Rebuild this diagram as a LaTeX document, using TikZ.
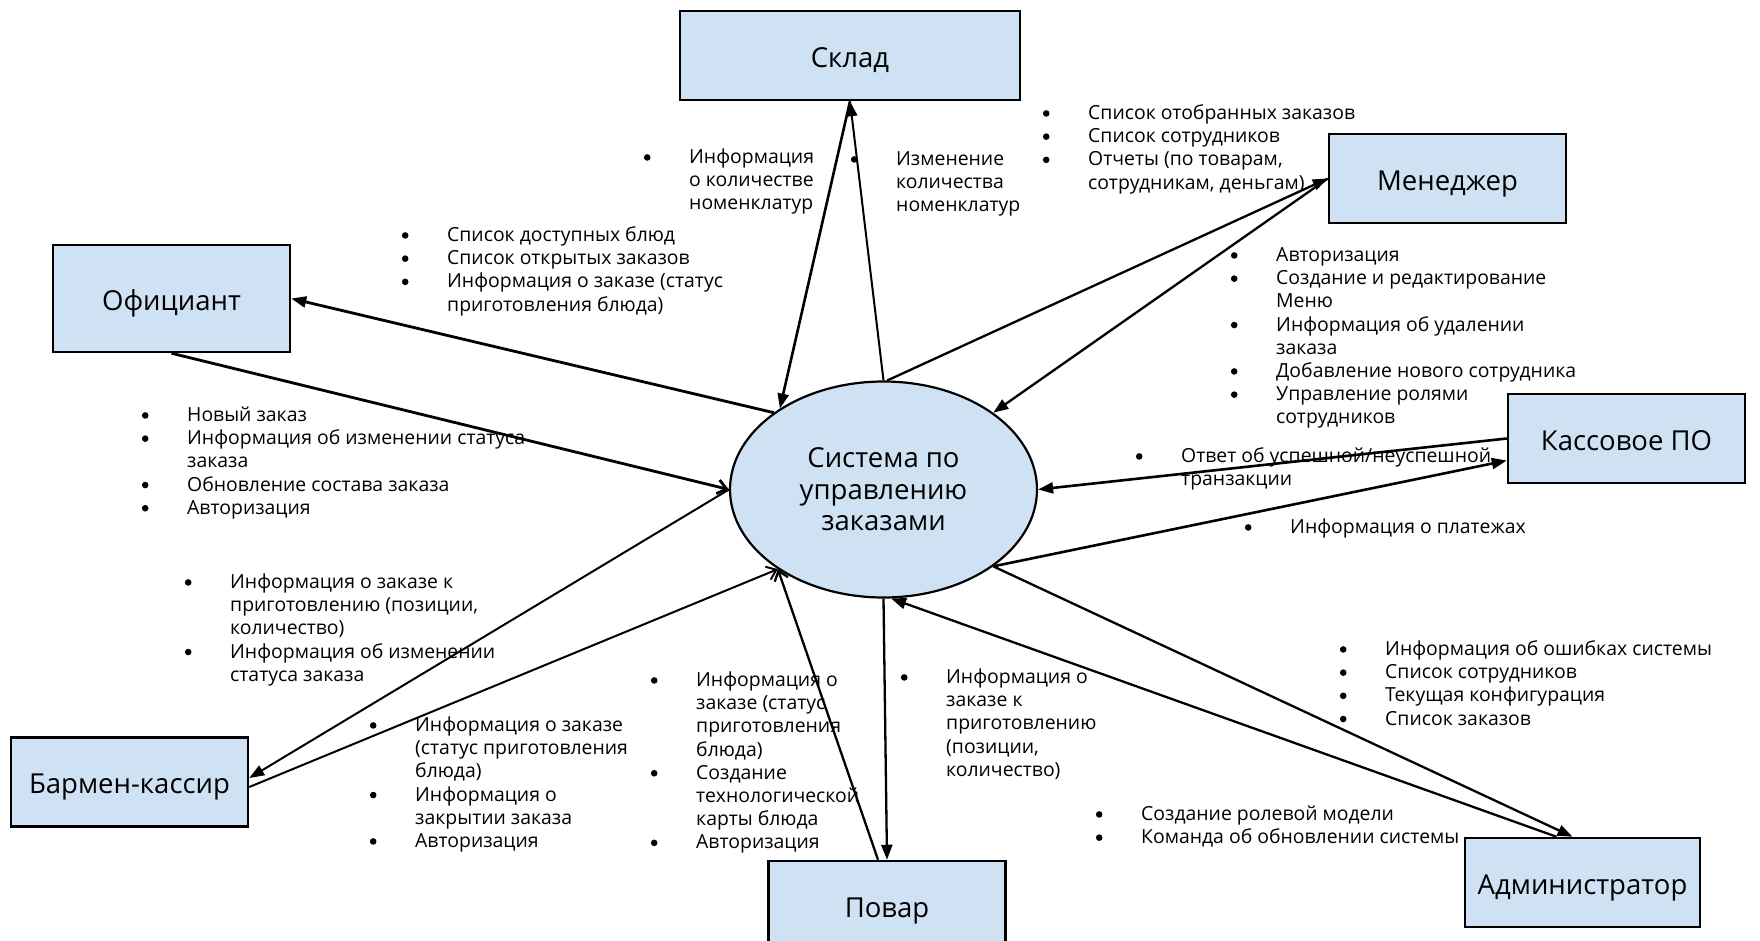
\documentclass[tikz,border=0pt]{standalone}
\usepackage{fontspec}
\setmainfont{Open Sans}
\usetikzlibrary{arrows.meta,shapes.geometric}
\definecolor{boxblue}{HTML}{CFE2F3}
\newcommand{\bul}{\llap{\tikz[baseline=0pt]\fill (0pt,6pt) circle[radius=3.3pt];\hspace{38.7pt}}}

\begin{document}
\begin{tikzpicture}[
    x=1pt, y=-1pt,
    >={Triangle[length=15pt,width=11pt]},
    actor/.style={draw, line width=2.5pt, fill=boxblue, minimum width=237pt,
      minimum height=89pt, inner sep=0pt, text height=23.6pt, text depth=0pt,
      font=\fontsize{27.5}{33}\selectfont},
    core/.style={draw, ellipse, line width=2.2pt, fill=boxblue, minimum width=307pt,
      minimum height=216pt, inner sep=0pt, align=center,
      font=\fontsize{27.5}{31.5}\selectfont},
    lst/.style={anchor=north west, align=left, inner sep=0pt,
      font=\fontsize{19.4}{23.2}\selectfont},
    arw/.style={->, line width=2.3pt},
    barb/.style={-{Straight Barb[length=9pt,width=14pt]}, line width=2.3pt},
  ]
    \path[use as bounding box, clip] (0,0) rectangle (1760,940);

    % Actors
    \node[actor, minimum width=340pt] (skl) at (850,55.5) {Склад};
    \node[actor] (men) at (1447.5,178.5) {Менеджер};
    \node[actor, minimum height=107pt] (ofc) at (171.5,298.5) {Официант};
    \node[actor] (kas) at (1626.5,438.5) {Кассовое ПО};
    \node[actor] (bar) at (129.5,782) {Бармен-кассир};
    \node[actor] (pov) at (887,905.5) {Повар};
    \node[actor, minimum width=235pt] (adm) at (1582.5,882.5) {Администратор};

    % System
    \node[core] (sys) at (883.5,489.5) {Система по\\управлению\\заказами};

    % Flows: warehouse and manager
    \draw[arw, line width=2pt] (sys.north) -- (skl.south);
    \draw[arw, line width=2.6pt] (skl.south) -- (sys.142.5);
    \draw[arw] (sys.88) -- (men.west);
    \draw[arw] (men.west) -- (sys.35.5);

    % Flows: waiter and bartender
    \draw[arw, line width=2.8pt] (sys.145.5) -- (ofc.east);
    \draw[barb, line width=2.8pt] (ofc.south) -- (sys.west);
    \draw[arw, line width=2pt] (sys.west) -- ([yshift=4pt]bar.east);
    \draw[barb, line width=2pt] ([yshift=-5pt]bar.east) -- (sys.217.7);

    % Flows: cook
    \draw[barb] ([xshift=-9pt]pov.north) -- (sys.217.7);
    \draw[arw] (sys.south) -- (pov.north);

    % Flows: cash software and administrator
    \draw[arw, line width=2.6pt] (kas.west) -- (sys.east);
    \draw[arw, line width=2.6pt] (sys.-35) -- ([yshift=-22pt]kas.west);
    \draw[arw] ([xshift=-26pt]adm.north) -- (sys.274);
    \draw[arw] (sys.-35) -- ([xshift=-10pt]adm.north);

    % Labels
    \node[lst] (l1) at (689,147) {\strut\bul Информация\\о количестве\\номенклатур};
    \node[lst] (l2) at (896,149) {\strut\bul Изменение\\количества\\номенклатур};
    \node[lst] (l3) at (1088,103) {\strut\bul Список отобранных заказов\\\bul Список сотрудников\\\bul Отчеты (по товарам,\\сотрудникам, деньгам)};
    \node[lst] (l4) at (1276,245) {\strut\bul Авторизация\\\bul Создание и редактирование\\Меню\\\bul Информация об удалении\\заказа\\\bul Добавление нового сотрудника\\\bul Управление ролями\\сотрудников};
    \node[lst] (l5) at (447,225) {\strut\bul Список доступных блюд\\\bul Список открытых заказов\\\bul Информация о заказе (статус\\приготовления блюда)};
    \node[lst] (l6) at (187,405) {\strut\bul Новый заказ\\\bul Информация об изменении статуса\\заказа\\\bul Обновление состава заказа\\\bul Авторизация};
    \node[lst] (l7) at (230,572) {\strut\bul Информация о заказе к\\приготовлению (позиции,\\количество)\\\bul Информация об изменении\\статуса заказа};
    \node[lst] (l8) at (415,715) {\strut\bul Информация о заказе\\(статус приготовления\\блюда)\\\bul Информация о\\закрытии заказа\\\bul Авторизация};
    \node[lst] (l9) at (696,670) {\strut\bul Информация о\\заказе (статус\\приготовления\\блюда)\\\bul Создание\\технологической\\карты блюда\\\bul Авторизация};
    \node[lst] (l10) at (946,667) {\strut\bul Информация о\\заказе к\\приготовлению\\(позиции,\\количество)};
    \node[lst] (l11) at (1181,446) {\strut\bul Ответ об успешной/неуспешной\\транзакции};
    \node[lst] (l12) at (1290,517) {\strut\bul Информация о платежах};
    \node[lst] (l13) at (1385,639) {\strut\bul Информация об ошибках системы\\\bul Список сотрудников\\\bul Текущая конфигурация\\\bul Список заказов};
    \node[lst] (l14) at (1141,804) {\strut\bul Создание ролевой модели\\\bul Команда об обновлении системы};

  \end{tikzpicture}
\end{document}
